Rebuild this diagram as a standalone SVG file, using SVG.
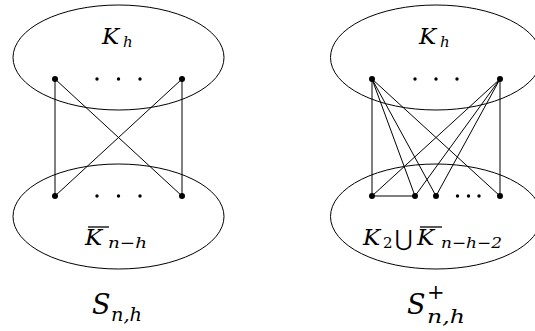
<svg xmlns="http://www.w3.org/2000/svg" width="535" height="331" viewBox="0 0 535 331">
<style>
.ell{fill:none;stroke:#000;stroke-width:1}
.e{stroke:#000;stroke-width:1;fill:none}
.n{fill:#000}
.t{font-family:"DejaVu Serif","Liberation Serif",serif;font-style:italic;font-size:23px;fill:#000}
.s{font-family:"DejaVu Serif","Liberation Serif",serif;font-style:italic;font-size:15px;fill:#000}
.r{font-family:"DejaVu Serif","Liberation Serif",serif;font-size:15px;fill:#000}
.u{font-family:"DejaVu Sans","DejaVu Serif",serif;font-size:22px;fill:#000}
.c{font-family:"DejaVu Serif","Liberation Serif",serif;font-style:italic;font-size:27px;fill:#000}
.cs{font-family:"DejaVu Serif","Liberation Serif",serif;font-style:italic;font-size:18px;fill:#000}
.cp{font-family:"DejaVu Serif","Liberation Serif",serif;font-size:21px;fill:#000}
.ol{stroke:#000;stroke-width:1.3}
</style>
<rect width="535" height="331" fill="#fff"/>
<g id="connectors">
  <line class="e" x1="55" y1="79" x2="55" y2="196"/>
  <line class="e" x1="55" y1="79" x2="182" y2="196"/>
  <line class="e" x1="182" y1="79" x2="55" y2="196"/>
  <line class="e" x1="182" y1="79" x2="182" y2="196"/>
  <line class="e" x1="372" y1="79" x2="372" y2="196"/>
  <line class="e" x1="372" y1="79" x2="415" y2="196"/>
  <line class="e" x1="372" y1="79" x2="436" y2="196"/>
  <line class="e" x1="372" y1="79" x2="500" y2="196"/>
  <line class="e" x1="500" y1="79" x2="372" y2="196"/>
  <line class="e" x1="500" y1="79" x2="415" y2="196"/>
  <line class="e" x1="500" y1="79" x2="436" y2="196"/>
  <line class="e" x1="500" y1="79" x2="500" y2="196"/>
  <line class="e" x1="372" y1="196" x2="415" y2="196"/>
</g>
<g id="left-top">
  <ellipse class="ell" cx="118.5" cy="57.5" rx="105.5" ry="52.5"/>
  <text class="t" x="102" y="44">K</text>
  <text class="s" x="123" y="47">h</text>
  <circle class="n" cx="55" cy="79" r="3"/>
  <circle class="n" cx="182" cy="79" r="3"/>
  <circle class="n" cx="97" cy="79" r="1.7"/>
  <circle class="n" cx="118.5" cy="79" r="1.7"/>
  <circle class="n" cx="140" cy="79" r="1.7"/>
</g>
<g id="left-bottom">
  <ellipse class="ell" cx="118.5" cy="216.5" rx="105.5" ry="52.5"/>
  <circle class="n" cx="55" cy="196" r="3"/>
  <circle class="n" cx="182" cy="196" r="3"/>
  <circle class="n" cx="97" cy="196" r="1.7"/>
  <circle class="n" cx="118.5" cy="196" r="1.7"/>
  <circle class="n" cx="140" cy="196" r="1.7"/>
  <line class="ol" x1="88" y1="227" x2="109" y2="227"/>
  <text class="t" x="85" y="245">K</text>
  <text class="s" x="108" y="248" textLength="39" lengthAdjust="spacingAndGlyphs">n−h</text>
</g>
<g id="right-top">
  <ellipse class="ell" cx="436" cy="57.5" rx="105.5" ry="52.5"/>
  <text class="t" x="419" y="44">K</text>
  <text class="s" x="440" y="47">h</text>
  <circle class="n" cx="372" cy="79" r="3"/>
  <circle class="n" cx="500" cy="79" r="3"/>
  <circle class="n" cx="415" cy="79" r="1.7"/>
  <circle class="n" cx="436" cy="79" r="1.7"/>
  <circle class="n" cx="457" cy="79" r="1.7"/>
</g>
<g id="right-bottom">
  <ellipse class="ell" cx="436" cy="216.5" rx="105.5" ry="52.5"/>
  <circle class="n" cx="372" cy="196" r="3"/>
  <circle class="n" cx="415" cy="196" r="3"/>
  <circle class="n" cx="436" cy="196" r="3"/>
  <circle class="n" cx="500" cy="196" r="3"/>
  <circle class="n" cx="457.5" cy="196" r="1.7"/>
  <circle class="n" cx="468.5" cy="196" r="1.7"/>
  <circle class="n" cx="479" cy="196" r="1.7"/>
  <text class="t" x="363" y="245">K</text>
  <text class="r" x="383" y="248">2</text>
  <text class="u" x="395" y="246">⋃</text>
  <line class="ol" x1="420" y1="227" x2="442" y2="227"/>
  <text class="t" x="417" y="245">K</text>
  <text class="s" x="441" y="248" textLength="61" lengthAdjust="spacingAndGlyphs">n−h−2</text>
</g>
<g id="captions">
  <text class="c" x="92" y="314">S</text>
  <text class="cs" x="111" y="321" textLength="31" lengthAdjust="spacingAndGlyphs">n,h</text>
  <text class="c" x="407" y="314">S</text>
  <text class="cp" x="427" y="299">+</text>
  <text class="cs" x="427" y="323" textLength="38" lengthAdjust="spacingAndGlyphs">n,h</text>
</g>
</svg>
